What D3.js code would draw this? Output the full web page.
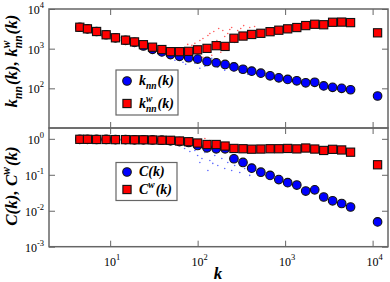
<!DOCTYPE html>
<html>
<head>
<meta charset="utf-8">
<script src="https://d3js.org/d3.v7.min.js"></script>
<style>
  body { margin: 0; background: #fff; }
</style>
</head>
<body>
<div id="chart-area"></div>
<script>
// Binned degree values (log bins), last one is the hub
var kBins = [4.5, 5.5, 7, 9, 11.5, 15, 19, 24, 30.5, 39, 49, 62, 79, 100, 128, 163,
             206, 260, 330, 415, 528, 673, 847, 1070, 1360, 1720, 2180, 2760, 3490, 4430, 5600, 11400];

// Top panel: average nearest neighbour degree
var knn  = [3470, 3160, 2710, 2240, 1880, 1620, 1440, 1170, 960, 830, 710, 640, 590, 547, 476, 442,
            400, 347, 303, 271, 241, 207, 184, 168, 155, 138, 142, 115, 106, 100, 92, 64];
var knnW = [3470, 3160, 2710, 2240, 1880, 1640, 1480, 1260, 1090, 950, 840, 840, 855, 935, 1017, 1190,
            1140, 1830, 2080, 2280, 2440, 2680, 2920, 3160, 3410, 3820, 4120, 4010, 4630, 4680, 4540, 2510];

// Bottom panel: clustering coefficient
var ck   = [0.97, 0.97, 0.96, 0.96, 0.95, 0.95, 0.94, 0.94, 0.93, 0.915, 0.88, 0.84, 0.79, 0.652, 0.563, 0.528,
            0.528, 0.279, 0.22, 0.153, 0.118, 0.0962, 0.0736, 0.0604, 0.0519, 0.0353, 0.0382, 0.0241, 0.0189, 0.0159, 0.0127, 0.0049];
var ckW  = [0.97, 0.97, 0.96, 0.96, 0.95, 0.95, 0.94, 0.94, 0.93, 0.915, 0.91, 0.87, 0.83, 0.765, 0.695, 0.695,
            0.63, 0.54, 0.53, 0.515, 0.52, 0.53, 0.53, 0.54, 0.525, 0.555, 0.52, 0.475, 0.51, 0.49, 0.425, 0.19];

// Raw (unbinned) points, [k, value]
var knnRaw  = [[48, 572], [55, 510], [68, 455], [73, 405], [81.5, 510], [93, 429], [106, 322], [121, 361],
               [145, 572], [170, 341], [204, 287], [245, 429], [303, 256], [373, 228]];
var knnWRaw = [[62.6, 642], [71, 572], [77, 1280], [86, 1210], [93, 1360], [95, 764], [106, 1610], [115, 1810],
               [121, 907], [131, 2150], [138, 2410], [145, 680], [153, 2710], [166, 1610], [174, 3220], [184, 809],
               [194, 2870], [204, 2030], [221, 2410], [233, 3040], [245, 3410], [265, 1440], [287, 2870], [311, 3220],
               [336, 3820], [373, 2560], [394, 3410], [448, 3610], [149, 1210], [215, 1020], [115, 606], [303, 2030]];
var ckRaw   = [[71, 0.538], [81.5, 0.445], [93, 0.474], [100, 0.344], [112, 0.284], [121, 0.417], [138, 0.25],
               [149, 0.207], [157, 0.344], [170, 0.182], [189, 0.284], [204, 0.15], [221, 0.22], [245, 0.132],
               [265, 0.182], [303, 0.116], [345, 0.15], [394, 0.096], [106, 0.22], [131, 0.132]];
var ckWRaw  = [[93, 0.956], [106, 0.842], [121, 1.02], [138, 0.897], [157, 0.79], [179, 0.842], [204, 0.741],
               [233, 0.695], [5410, 0.417]];

// Tick values
var xTicks = [10, 100, 1000, 10000];
var topTicks = [100, 1000, 10000];
var bottomTicks = [1, 0.1, 0.01, 0.001];

var width = 390, height = 282;
var frameColor = "#666";

var svg = d3.select("#chart-area").append("svg")
    .attr("width", width)
    .attr("height", height)
    .attr("font-family", "'Liberation Serif', 'Times New Roman', Times, serif");

svg.append("rect").attr("width", width).attr("height", height).attr("fill", "#fff");

// Scales
var x = d3.scaleLog().domain([2, 15000]).range([49, 388]);
var yTop = d3.scaleLog().domain([10, 10000]).range([128, 9]);
var yBot = d3.scaleLog().domain([0.001, 2]).range([246.7, 128]);

// lays out text pieces, {t} normal, {sup, sub} stacked scripts
function richText(g, segs, size) {
    var cx = 0;
    segs.forEach(function(s) {
        if (s.t) {
            var t = g.append("text").attr("x", cx).attr("y", 0)
                .attr("font-size", size).text(s.t);
            cx += t.node().getComputedTextLength();
        } else {
            var w = 0;
            if (s.sup) {
                var a = g.append("text").attr("x", cx).attr("y", -size * 0.42)
                    .attr("font-size", size * 0.68).text(s.sup);
                w = Math.max(w, a.node().getComputedTextLength());
            }
            if (s.sub) {
                var b = g.append("text").attr("x", cx).attr("y", size * 0.3)
                    .attr("font-size", size * 0.68).text(s.sub);
                w = Math.max(w, b.node().getComputedTextLength());
            }
            cx += w + 1;
        }
    });
    return cx;
}

function drawPanel(y, yTicks, showX) {
    var g = svg.append("g");
    var y0 = y.range()[0], y1 = y.range()[1];

    // Ticks, pointing inwards on all four sides
    g.append("g").attr("transform", "translate(0," + y0 + ")")
        .call(d3.axisBottom(x).tickValues(xTicks).tickSize(-6).tickFormat(""));
    g.append("g").attr("transform", "translate(0," + y1 + ")")
        .call(d3.axisTop(x).tickValues(xTicks).tickSize(-6).tickFormat(""));
    g.append("g").attr("transform", "translate(" + x.range()[0] + ",0)")
        .call(d3.axisLeft(y).tickValues(yTicks).tickSize(-6).tickFormat(""));
    g.append("g").attr("transform", "translate(" + x.range()[1] + ",0)")
        .call(d3.axisRight(y).tickValues(yTicks).tickSize(-6).tickFormat(""));
    g.selectAll(".domain").remove();
    g.selectAll(".tick line").attr("stroke", frameColor).attr("stroke-width", 1);

    g.append("rect")
        .attr("x", x.range()[0]).attr("y", y1)
        .attr("width", x.range()[1] - x.range()[0]).attr("height", y0 - y1)
        .attr("fill", "none").attr("stroke", frameColor).attr("stroke-width", 1.5);

    // Y tick labels
    yTicks.forEach(function(d) {
        var t = g.append("text")
            .attr("x", 44).attr("y", y(d) + 5)
            .attr("text-anchor", "end")
            .attr("font-size", 12);
        t.append("tspan").text("10");
        t.append("tspan").attr("dy", -6).attr("font-size", 8.5).text(Math.round(Math.log10(d)));
    });

    if (showX) {
        xTicks.forEach(function(d) {
            var t = g.append("text")
                .attr("x", x(d) + 2).attr("y", y0 + 19)
                .attr("text-anchor", "middle")
                .attr("font-size", 12);
            t.append("tspan").text("10");
            t.append("tspan").attr("dy", -6).attr("font-size", 8.5).text(Math.round(Math.log10(d)));
        });
    }
    return g;
}

function drawDots(raw, y, color) {
    svg.append("g").selectAll("circle").data(raw).enter().append("circle")
        .attr("cx", function(d) { return x(d[0]); })
        .attr("cy", function(d) { return y(d[1]); })
        .attr("r", 0.8)
        .attr("fill", color)
        .attr("opacity", 0.8);
}

function drawCircles(vals, y) {
    svg.append("g").selectAll("circle").data(vals).enter().append("circle")
        .attr("cx", function(d, i) { return x(kBins[i]); })
        .attr("cy", function(d) { return y(d); })
        .attr("r", 4.3)
        .attr("fill", "#0000ff")
        .attr("stroke", "#111")
        .attr("stroke-width", 1.1);
}

function drawSquares(vals, y) {
    svg.append("g").selectAll("rect").data(vals).enter().append("rect")
        .attr("x", function(d, i) { return x(kBins[i]) - 4.1; })
        .attr("y", function(d) { return y(d) - 4.1; })
        .attr("width", 8.2)
        .attr("height", 8.2)
        .attr("fill", "#ff0000")
        .attr("stroke", "#111")
        .attr("stroke-width", 1.1);
}

function drawLegend(bx, by, bw, bh, items) {
    var g = svg.append("g");
    g.append("rect").attr("x", bx).attr("y", by).attr("width", bw).attr("height", bh)
        .attr("fill", "#fff").attr("stroke", frameColor).attr("stroke-width", 1.2);
    items.forEach(function(it) {
        if (it.shape === "circle") {
            g.append("circle").attr("cx", bx + 11).attr("cy", it.y).attr("r", 4.3)
                .attr("fill", "#0000ff").attr("stroke", "#111").attr("stroke-width", 1.1);
        } else {
            g.append("rect").attr("x", bx + 6.9).attr("y", it.y - 4.1).attr("width", 8.2).attr("height", 8.2)
                .attr("fill", "#ff0000").attr("stroke", "#111").attr("stroke-width", 1.1);
        }
        var tg = g.append("g")
            .attr("transform", "translate(" + (bx + 23) + "," + (it.y + 4) + ")")
            .attr("font-weight", "bold").attr("font-style", "italic");
        richText(tg, it.segs, 14);
    });
}

var kSegs  = [{t: "k"}, {sub: "nn"}, {t: "(k)"}];
var kwSegs = [{t: "k"}, {sup: "w", sub: "nn"}, {t: "(k)"}];
var cSegs  = [{t: "C(k)"}];
var cwSegs = [{t: "C"}, {sup: "w"}, {t: "(k)"}];

// Top panel
drawPanel(yTop, topTicks, false);
drawDots(knnRaw, yTop, "#3344ff");
drawDots(knnWRaw, yTop, "#ff3333");
drawCircles(knn, yTop);
drawSquares(knnW, yTop);
drawLegend(116, 70, 62, 45, [
    {shape: "circle", y: 81, segs: kSegs},
    {shape: "rect", y: 103.5, segs: kwSegs}
]);

// Bottom panel
drawPanel(yBot, bottomTicks, true);
drawDots(ckRaw, yBot, "#3344ff");
drawDots(ckWRaw, yBot, "#ff3333");
drawCircles(ck, yBot);
drawSquares(ckW, yBot);
drawLegend(116, 162.5, 61, 38, [
    {shape: "circle", y: 172, segs: cSegs},
    {shape: "rect", y: 189.5, segs: cwSegs}
]);

// Axis titles
function axisTitle(cx, cy, rot, segs, size) {
    var outer = svg.append("g").attr("transform", "translate(" + cx + "," + cy + ") rotate(" + rot + ")");
    var inner = outer.append("g").attr("font-weight", "bold").attr("font-style", "italic");
    var w = richText(inner, segs, size);
    inner.attr("transform", "translate(" + (-w / 2) + ",0)");
}

axisTitle(17, 61, -90, [{t: "k"}, {sub: "nn"}, {t: "(k), k"}, {sup: "w", sub: "nn"}, {t: "(k)"}], 17);
axisTitle(17, 186, -90, [{t: "C(k), C"}, {sup: "w"}, {t: "(k)"}], 17);
axisTitle(218, 279, 0, [{t: "k"}], 17);
</script>
</body>
</html>
